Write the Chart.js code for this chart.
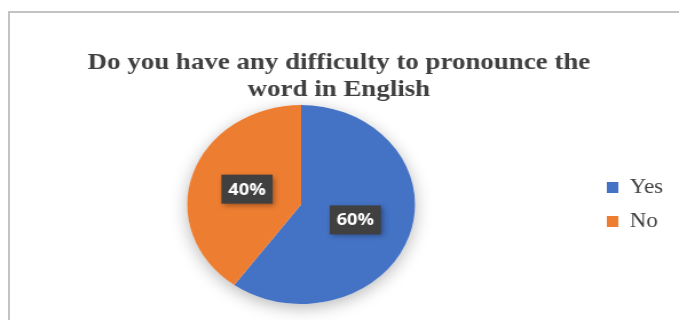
<!DOCTYPE html>
<html lang="en">
<head>
    <meta charset="UTF-8">
    <title>Do you have any difficulty to pronounce the word in English</title>
    <style>
        body {
            margin: 0;
            padding: 0;
            background-color: #ffffff;
            overflow: hidden;
        }
        .frame {
            position: absolute;
            left: 8px;
            top: 11px;
            width: 720px;
            height: 400px;
            border: 2px solid #c3c3c3;
            box-sizing: border-box;
        }
        /* the source picture is stretched sideways, so the chart is drawn narrow and widened */
        .stretch {
            position: absolute;
            left: 0;
            top: 0;
            width: 593px;
            height: 320px;
            transform: scaleX(1.145);
            transform-origin: 0 0;
        }
    </style>
</head>
<body>

<div class="frame"></div>
<div class="stretch">
    <canvas id="pieChart" width="593" height="320"></canvas>
</div>

<script src="https://cdn.jsdelivr.net/npm/chart.js"></script>
<script>
    var categories = ['Yes', 'No'];
    var percentValues = [60, 40];
    var sliceColors = ['#4472C4', '#ED7D31'];
    var titleLines = ['Do you have any difficulty to pronounce the', 'word in English'];

    // soft shadow under the whole pie
    var pieShadow = {
        id: 'pieShadow',
        beforeDatasetsDraw: function (chart) {
            var arc = chart.getDatasetMeta(0).data[0];
            if (!arc) return;
            var ctx = chart.ctx;
            ctx.save();
            ctx.shadowColor = 'rgba(0, 0, 0, 0.28)';
            ctx.shadowBlur = 16;
            ctx.shadowOffsetY = 4;
            ctx.fillStyle = '#ffffff';
            ctx.beginPath();
            ctx.arc(arc.x, arc.y, arc.outerRadius, 0, Math.PI * 2);
            ctx.fill();
            ctx.restore();
        }
    };

    // dark callout boxes with the percentages
    var sliceLabels = {
        id: 'sliceLabels',
        afterDatasetsDraw: function (chart) {
            var ctx = chart.ctx;
            var data = chart.data.datasets[0].data;
            var total = data.reduce(function (a, b) { return a + b; }, 0);
            ctx.save();
            ctx.font = 'bold 16px "Open Sans", sans-serif';
            ctx.textAlign = 'center';
            ctx.textBaseline = 'middle';
            chart.getDatasetMeta(0).data.forEach(function (arc, i) {
                var pos = arc.tooltipPosition();
                var text = Math.round(data[i] / total * 100) + '%';
                var w = ctx.measureText(text).width + 12;
                var h = 29;
                ctx.save();
                ctx.shadowColor = 'rgba(0, 0, 0, 0.35)';
                ctx.shadowBlur = 5;
                ctx.shadowOffsetX = 2;
                ctx.shadowOffsetY = 2;
                ctx.fillStyle = '#404040';
                ctx.fillRect(pos.x - w / 2, pos.y - h / 2, w, h);
                ctx.restore();
                ctx.fillStyle = '#ffffff';
                ctx.fillText(text, pos.x, pos.y + 1);
            });
            ctx.restore();
        }
    };

    var ctx = document.getElementById('pieChart').getContext('2d');
    var myChart = new Chart(ctx, {
        type: 'pie',
        data: {
            labels: categories,
            datasets: [{
                data: percentValues,
                backgroundColor: sliceColors,
                borderWidth: 0
            }]
        },
        options: {
            responsive: false,
            animation: false,
            layout: {
                padding: { left: 10, right: 11, top: 0, bottom: 16 }
            },
            plugins: {
                title: {
                    display: true,
                    text: titleLines,
                    color: '#404040',
                    font: { family: '"Liberation Serif", "Times New Roman", serif', size: 23.5, weight: 'bold', lineHeight: 1.15 },
                    padding: { top: 49.5, bottom: 1.5 }
                },
                legend: {
                    position: 'right',
                    fullSize: false,
                    maxWidth: 66,
                    labels: {
                        boxWidth: 10,
                        boxHeight: 11,
                        padding: 14,
                        color: '#404040',
                        font: { family: '"Liberation Serif", "Times New Roman", serif', size: 20 }
                    }
                },
                tooltip: { enabled: false }
            }
        },
        plugins: [pieShadow, sliceLabels]
    });
</script>

</body>
</html>
